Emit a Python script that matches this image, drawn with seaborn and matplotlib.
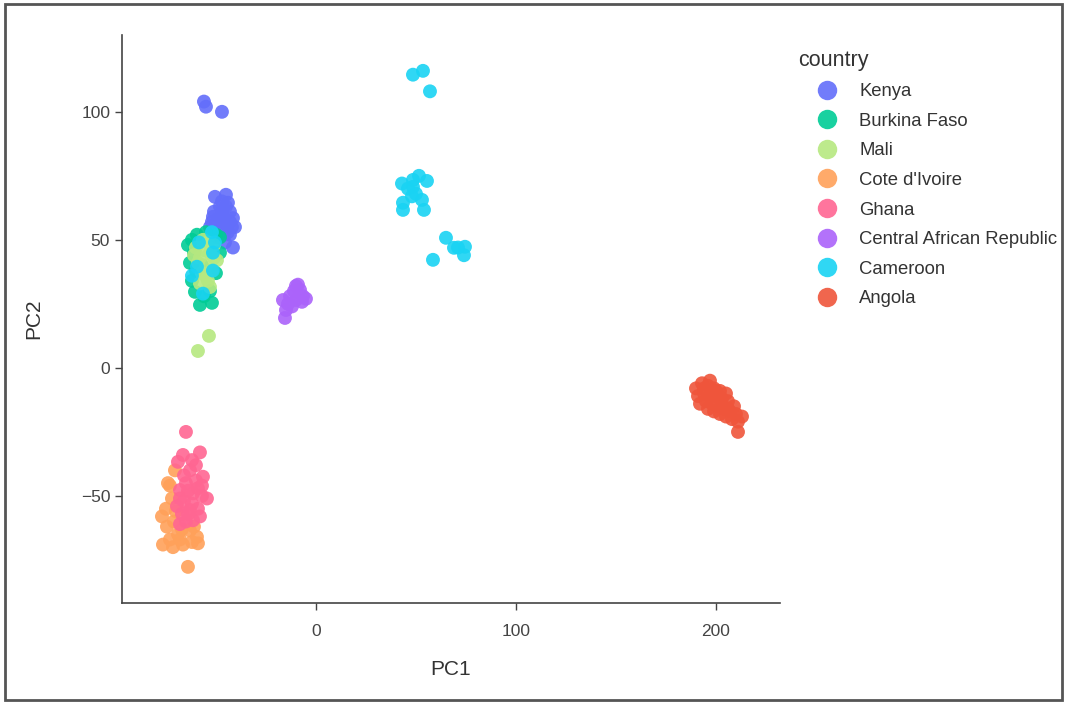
import pandas as pd
import numpy as np
import matplotlib.pyplot as plt
import seaborn as sns
from matplotlib.patches import Rectangle

countries = ["Kenya", "Burkina Faso", "Mali", "Cote d'Ivoire", "Ghana",
             "Central African Republic", "Cameroon", "Angola"]
colors = ["#636efa", "#00cc96", "#b6e880", "#ffa15a", "#ff6692",
          "#ab63fa", "#19d3f3", "#ef553b"]

# PC1 / PC2, one pair of lists per country
kenya_x = [-56, -55, -47, -50.5, -45, -44, -48, -51.5, -46.5, -41.5, -49, -44.5, -43, -41.5, -45.5, -49.5,
           -52, -47, -43, -50, -46, -42, -48, -44, -53, -45, -47, -51, -49, -43, -46, -40.5]
kenya_y = [104, 102, 100, 66.8, 67.6, 64.5, 63, 59, 59, 58.5, 55, 55, 52, 47, 49, 51,
           57, 61, 61, 56, 57, 55, 53, 53, 55, 63, 65, 61, 58, 57, 52, 55]
burkina_x = [-59.5, -64, -48, -60.5, -58, -52, -62, -48, -61, -57, -55, -63, -50, -56, -53, -60, -62, -50]
burkina_y = [52, 48, 51, 29.7, 24.6, 25.4, 34, 45, 45, 40, 53, 41, 37, 28, 30, 38, 50, 52]
mali_x = [-59, -53, -54, -56.5, -49.5, -58, -53, -53.5, -59, -61, -56, -51, -57, -55, -60, -52, -55, -58, -54, -51]
mali_y = [41, 45, 34, 50, 42, 33, 31.6, 12.5, 6.6, 44, 46, 48, 37, 40, 47, 38, 36, 43, 49, 43]
cote_x = [-70.5, -74, -72, -77, -74.5, -63, -59.5, -76.5, -71.5, -66.5, -59, -64, -69, -73, -68, -62,
          -71, -70, -73, -75, -67, -61]
cote_y = [-40, -45, -51, -58, -62, -63.5, -66, -69, -70, -69, -68.5, -77.7, -65, -67, -67, -68,
          -60, -56, -46, -55, -63, -62]
ghana_x = [-65, -66.5, -58, -69, -63, -56.5, -68, -61.5, -54.5, -69.5, -63, -58, -68, -61.5, -65,
           -60, -66, -62, -59, -64, -66, -57, -67, -60, -62, -64, -59, -65, -57, -68]
ghana_y = [-25, -34, -33, -36.7, -40, -42.5, -47.7, -49, -51, -54, -55.5, -58, -61, -59.5, -45,
           -44, -52, -53, -47, -57, -42, -50, -57, -38, -36, -48, -55, -60, -46, -51]
car_x = [-16.5, -13, -10, -8, -10, -6.5, -15, -15.5, -7, -9, -12, -5, -11, -14]
car_y = [26.5, 28, 32, 30.5, 26.5, 28, 22.6, 19.5, 25.8, 32.5, 24, 27, 30, 25]
cameroon_x = [-52, -58.5, -50.5, -51.5, -59.5, -62, -51.5, -56.5,
              48.5, 53.5, 57,
              43, 51.5, 55.5, 48.5, 48, 43.5, 43.5, 53, 54, 48.5, 46, 50,
              65, 69, 74.5, 74, 58.5, 71]
cameroon_y = [53, 49, 49, 45, 39.5, 36, 38, 29,
              114.5, 116, 108,
              72, 75, 73, 70.7, 67, 64.5, 61.7, 65.6, 61.7, 73.4, 70, 68,
              50.8, 46.9, 47.3, 44, 42.2, 47]
angola_x = [190, 193, 196, 199, 202, 205, 191, 194, 197, 200, 203, 206, 209, 192, 195, 198, 201,
            204, 207, 210, 213, 196, 199, 202, 205, 208, 211, 194, 197, 200, 203, 206, 211]
angola_y = [-8, -6, -7, -8, -9, -10, -11, -10, -11, -11, -12, -13, -15, -14, -13, -14, -15,
            -16, -17, -18, -19, -16, -17, -18, -19, -20, -21, -8, -5, -9, -14, -16, -25]

xs = [kenya_x, burkina_x, mali_x, cote_x, ghana_x, car_x, cameroon_x, angola_x]
ys = [kenya_y, burkina_y, mali_y, cote_y, ghana_y, car_y, cameroon_y, angola_y]

df = pd.concat([pd.DataFrame({"PC1": x, "PC2": y, "country": c})
                for c, x, y in zip(countries, xs, ys)], ignore_index=True)

sns.set_style("ticks")
plt.rcParams["font.family"] = ["Liberation Sans", "DejaVu Sans"]

fig = plt.figure(figsize=(10.66, 7.04), dpi=100)
ax = fig.add_axes([0.1144, 0.1435, 0.6173, 0.8068])

sns.scatterplot(data=df, x="PC1", y="PC2", hue="country", hue_order=countries,
                palette=dict(zip(countries, colors)), s=100, alpha=0.9,
                linewidth=0, ax=ax)

ax.set_xlim(-97, 232)
ax.set_ylim(-91.8, 130)
ax.set_xticks([0, 100, 200])
ax.set_yticks([-50, 0, 50, 100])
ax.tick_params(colors="#444444", labelsize=12.5, length=5, width=1)
ax.tick_params(axis="x", pad=10)
for sp in ["left", "bottom"]:
    ax.spines[sp].set_color("#444444")
    ax.spines[sp].set_linewidth(1.2)
sns.despine(ax=ax)
ax.set_xlabel("PC1", fontsize=15, color="#333333", labelpad=15)
ax.set_ylabel("PC2", fontsize=15, color="#333333", labelpad=27)

sns.move_legend(ax, "upper left", bbox_to_anchor=(0.733, 0.953),
                bbox_transform=fig.transFigure, frameon=False, title="country",
                fontsize=13.3, title_fontsize=15.5, markerscale=1.4,
                labelspacing=0.68, handlelength=3.1, handletextpad=0.22,
                alignment="left")
leg = ax.get_legend()
for t in leg.get_texts():
    t.set_color("#333333")
leg.get_title().set_color("#333333")

fig.patches.append(Rectangle((0.005, 0.005), 0.991, 0.989, transform=fig.transFigure,
                             fill=False, edgecolor="#555555", linewidth=2))

fig.savefig("out.png", dpi=100)
